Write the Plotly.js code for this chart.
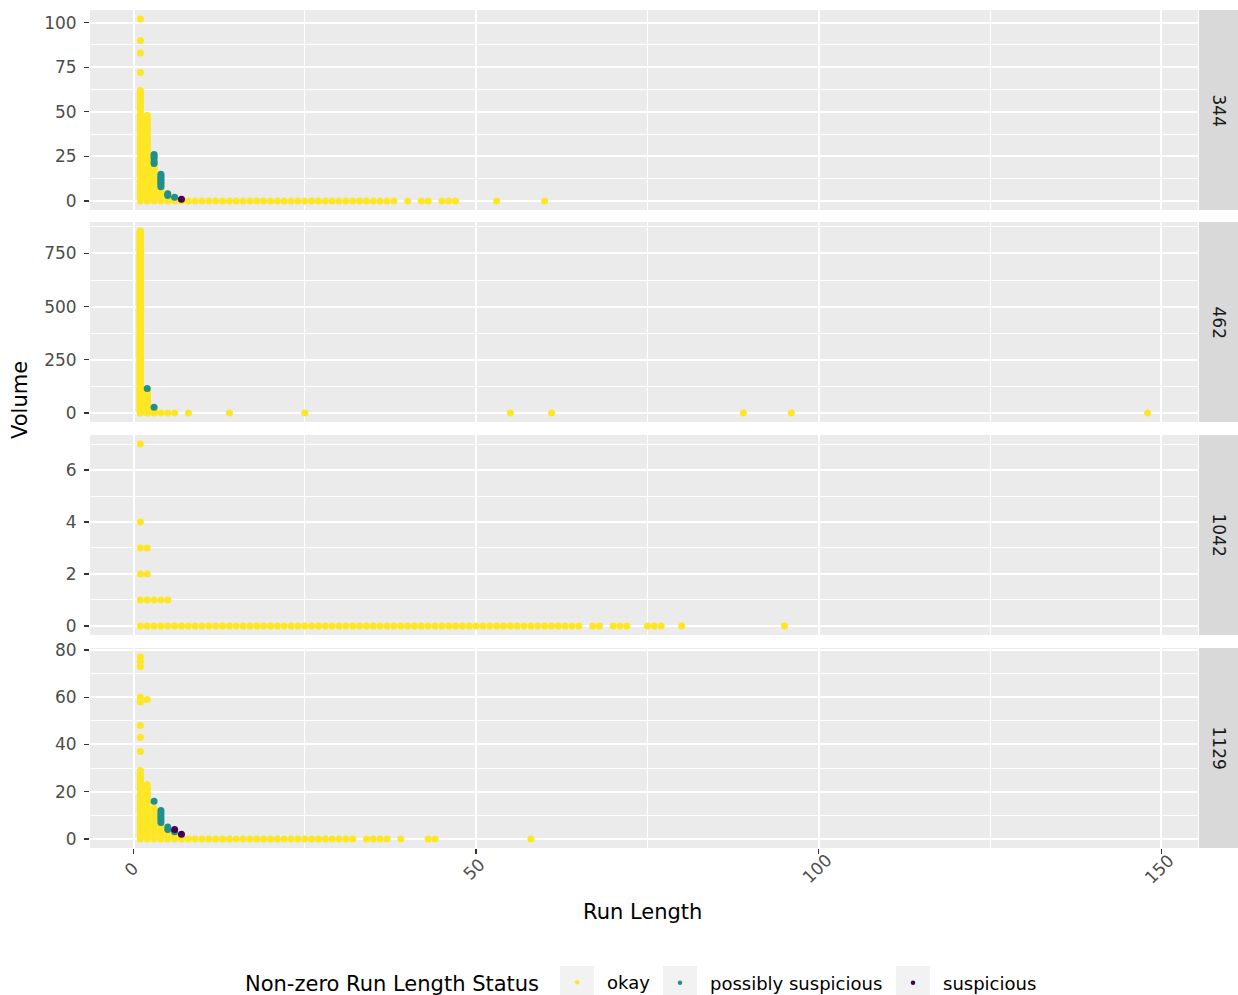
<!DOCTYPE html>
<html><head><meta charset="utf-8">
<script src="https://cdn.plot.ly/plotly-3.0.1.min.js"></script>
<style>html,body{margin:0;padding:0;background:#fff}</style>
</head><body><div id="chart" style="width:1238px;height:995px"></div>
<script>
// ---------- data ----------
const facetLabels = ['344', '462', '1042', '1129'];
const statusNames = ['okay', 'possibly suspicious', 'suspicious'];
const statusColors = ['#FDE725', '#21908C', '#440154'];
const xTickVals = [0, 50, 100, 150];
const xTickText = ['0', '50', '100', '150'];

// Panel 344: dense "okay" columns (every volume 0..top at that run length)
const p344ColRun = [1, 2, 3, 4, 5, 6, 7];
const p344ColTop = [62, 48, 22, 10, 4, 2, 1];
const p344OkayX = [1, 1, 1, 1, 8, 9, 10, 11, 12, 13, 14, 15, 16, 17, 18, 19, 20, 21, 22, 23, 24, 25, 26, 27, 28, 29, 30, 31, 32, 33, 34, 35, 36, 37, 38, 40, 42, 43, 45, 46, 47, 53, 60];
const p344OkayY = [72, 83, 90, 102, 0, 0, 0, 0, 0, 0, 0, 0, 0, 0, 0, 0, 0, 0, 0, 0, 0, 0, 0, 0, 0, 0, 0, 0, 0, 0, 0, 0, 0, 0, 0, 0, 0, 0, 0, 0, 0, 0, 0];
const p344PossX = [3, 3, 3, 3, 3, 4, 4, 4, 4, 4, 4, 4, 4, 5, 5, 6];
const p344PossY = [21, 22, 24, 25, 26, 8, 9, 10, 11, 12, 13, 14, 15, 3, 4, 2];
const p344SuspX = [7];
const p344SuspY = [1];

// Panel 462
const p462ColRun = [1, 2, 3];
const p462ColTop = [855, 110, 22];
const p462OkayX = [4, 5, 6, 8, 14, 25, 55, 61, 89, 96, 148];
const p462OkayY = [0, 0, 0, 0, 0, 0, 0, 0, 0, 0, 0];
const p462PossX = [2, 3];
const p462PossY = [115, 27];
const p462SuspX = [];
const p462SuspY = [];

// Panel 1042
const p1042ColRun = [1, 2, 3, 4, 5];
const p1042ColTop = [4, 3, 1, 1, 1];
const p1042OkayX = [1, 6, 7, 8, 9, 10, 11, 12, 13, 14, 15, 16, 17, 18, 19, 20, 21, 22, 23, 24, 25, 26, 27, 28, 29, 30, 31, 32, 33, 34, 35, 36, 37, 38, 39, 40, 41, 42, 43, 44, 45, 46, 47, 48, 49, 50, 51, 52, 53, 54, 55, 56, 57, 58, 59, 60, 61, 62, 63, 64, 65, 67, 68, 70, 71, 72, 75, 76, 77, 80, 95];
const p1042OkayY = [7, 0, 0, 0, 0, 0, 0, 0, 0, 0, 0, 0, 0, 0, 0, 0, 0, 0, 0, 0, 0, 0, 0, 0, 0, 0, 0, 0, 0, 0, 0, 0, 0, 0, 0, 0, 0, 0, 0, 0, 0, 0, 0, 0, 0, 0, 0, 0, 0, 0, 0, 0, 0, 0, 0, 0, 0, 0, 0, 0, 0, 0, 0, 0, 0, 0, 0, 0, 0, 0, 0];
const p1042PossX = [];
const p1042PossY = [];
const p1042SuspX = [];
const p1042SuspY = [];

// Panel 1129
const p1129ColRun = [1, 2, 3, 4, 5, 6, 7];
const p1129ColTop = [29, 23, 13, 6, 3, 2, 1];
const p1129OkayX = [1, 1, 1, 1, 1, 1, 1, 1, 2, 8, 9, 10, 11, 12, 13, 14, 15, 16, 17, 18, 19, 20, 21, 22, 23, 24, 25, 26, 27, 28, 29, 30, 31, 32, 34, 35, 36, 37, 39, 43, 44, 58];
const p1129OkayY = [37, 43, 48, 58, 60, 73, 75, 77, 59, 0, 0, 0, 0, 0, 0, 0, 0, 0, 0, 0, 0, 0, 0, 0, 0, 0, 0, 0, 0, 0, 0, 0, 0, 0, 0, 0, 0, 0, 0, 0, 0, 0];
const p1129PossX = [3, 4, 4, 4, 4, 4, 4, 5, 5, 6];
const p1129PossY = [16, 7, 8, 9, 10, 11, 12, 4, 5, 3];
const p1129SuspX = [6, 7];
const p1129SuspY = [4, 2];

// y-axis ticks per panel
const yTicks = [[0, 25, 50, 75, 100], [0, 250, 500, 750], [0, 2, 4, 6], [0, 20, 40, 60, 80]];

// ---------- build ----------
const panels = [
  {colRun: p344ColRun, colTop: p344ColTop, ox: p344OkayX, oy: p344OkayY, px: p344PossX, py: p344PossY, sx: p344SuspX, sy: p344SuspY},
  {colRun: p462ColRun, colTop: p462ColTop, ox: p462OkayX, oy: p462OkayY, px: p462PossX, py: p462PossY, sx: p462SuspX, sy: p462SuspY},
  {colRun: p1042ColRun, colTop: p1042ColTop, ox: p1042OkayX, oy: p1042OkayY, px: p1042PossX, py: p1042PossY, sx: p1042SuspX, sy: p1042SuspY},
  {colRun: p1129ColRun, colTop: p1129ColTop, ox: p1129OkayX, oy: p1129OkayY, px: p1129PossX, py: p1129PossY, sx: p1129SuspX, sy: p1129SuspY}
];

const W = 1238, H = 995;
const mL = 90, mR = 40, mT = 10, mB = 147;
const plotW = W - mL - mR, plotH = H - mT - mB;
const panelPx = [[10, 210], [222, 422], [435, 635], [648, 848]];
const dom = panelPx.map(p => [(H - mB - p[1]) / plotH, (H - mB - p[0]) / plotH]);
const px2x = px => (px - mL) / plotW;
const px2y = py => (H - mB - py) / plotH;

const MS = 7;
const traces = [];
const layout = {
  width: W, height: H,
  margin: {l: mL, r: mR, t: mT, b: mB, autoexpand: false},
  paper_bgcolor: '#FFFFFF', plot_bgcolor: '#EBEBEB',
  font: {family: 'DejaVu Sans, sans-serif', color: '#000000'},
  showlegend: true,
  shapes: [], annotations: []
};

panels.forEach((p, i) => {
  const n = i + 1;
  const xa = 'x' + (n === 1 ? '' : n), ya = 'y' + (n === 1 ? '' : n);
  const cx = [], cy = [];
  p.colRun.forEach((r, k) => { for (let v = 0; v <= p.colTop[k]; v++) { cx.push(r); cy.push(v); } });
  const okX = cx.concat(p.ox), okY = cy.concat(p.oy);
  const sets = [[okX, okY], [p.px, p.py], [p.sx, p.sy]];
  sets.forEach((s, j) => {
    traces.push({type: 'scatter', mode: 'markers', x: s[0], y: s[1], xaxis: xa, yaxis: ya,
      marker: {color: statusColors[j], size: MS, line: {width: 0}}, showlegend: false, hoverinfo: 'x+y'});
  });
  const ymax = Math.max(...okY, ...p.py, ...p.sy, 0), ymin = 0;
  const pad = (ymax - ymin) * 0.05;
  layout['xaxis' + (n === 1 ? '' : n)] = {
    domain: [0, 1], anchor: ya, range: [-6.35, 155.35],
    tickmode: 'array', tickvals: xTickVals, ticktext: xTickText,
    showticklabels: false, ticks: n === 4 ? 'outside' : '', ticklen: 5, tickcolor: '#333333', tickwidth: 1.3,
    showgrid: true, gridcolor: '#FFFFFF', gridwidth: 2, zeroline: false, showline: false,
    minor: {tickmode: 'array', tickvals: [25, 75, 125], showgrid: true, gridcolor: '#FFFFFF', gridwidth: 1, ticks: ''}
  };
  const yt = yTicks[i];
  const step = yt[1] - yt[0];
  const minorVals = yt.map(v => v + step / 2).filter(v => v < ymax + pad);
  layout['yaxis' + (n === 1 ? '' : n)] = {
    domain: dom[i], anchor: xa, range: [ymin - pad, ymax + pad],
    tickmode: 'array', tickvals: yt, ticktext: yt.map(String),
    ticks: 'outside', ticklen: 5, tickcolor: '#333333', tickwidth: 1.3, ticklabelstandoff: 4,
    tickfont: {size: 17, color: '#4D4D4D'},
    showgrid: true, gridcolor: '#FFFFFF', gridwidth: 2, zeroline: false, showline: false,
    minor: {tickmode: 'array', tickvals: minorVals, showgrid: true, gridcolor: '#FFFFFF', gridwidth: 1, ticks: ''}
  };
  layout.shapes.push({type: 'rect', xref: 'paper', yref: 'paper', x0: 1 + 1 / plotW, x1: 1 + 40 / plotW,
    y0: dom[i][0], y1: dom[i][1], fillcolor: '#D9D9D9', line: {width: 0}, layer: 'below'});
  layout.annotations.push({xref: 'paper', yref: 'paper', x: 1 + 20.5 / plotW, y: (dom[i][0] + dom[i][1]) / 2,
    text: facetLabels[i], textangle: 90, showarrow: false, xanchor: 'center', yanchor: 'middle',
    font: {size: 17, color: '#1A1A1A'}});
});

// x tick labels (rotated, centred under ticks)
xTickVals.forEach((v, k) => {
  layout.annotations.push({xref: 'x4', yref: 'paper', x: v, y: 0, yshift: -21, xshift: -2, text: xTickText[k],
    textangle: -45, showarrow: false, xanchor: 'center', yanchor: 'middle', font: {size: 17, color: '#4D4D4D'}});
});
// axis titles
layout.annotations.push({xref: 'paper', yref: 'paper', x: px2x(642), y: px2y(912),
  text: 'Run Length', showarrow: false, xanchor: 'center', yanchor: 'middle', font: {size: 21, color: '#000000'}});
layout.annotations.push({xref: 'paper', yref: 'paper', x: px2x(20), y: px2y(400),
  text: 'Volume', textangle: -90, showarrow: false, xanchor: 'center', yanchor: 'middle', font: {size: 21, color: '#000000'}});

// legend keys (grey key backgrounds) and one legend per status so each entry sits where the reference has it
const keyCentres = [577, 680, 913];
keyCentres.forEach(cxp => {
  layout.shapes.push({type: 'rect', xref: 'paper', yref: 'paper', x0: px2x(cxp - 17), x1: px2x(cxp + 17),
    y0: px2y(1000), y1: px2y(966), fillcolor: '#F2F2F2', line: {width: 0}, layer: 'below'});
});
const legendNames = ['legend', 'legend2', 'legend3'];
statusNames.forEach((nm, j) => {
  traces.push({type: 'scatter', mode: 'markers', x: [null], y: [null], name: nm, xaxis: 'x4', yaxis: 'y4',
    marker: {color: statusColors[j], size: 4.5}, showlegend: true, legend: legendNames[j]});
});
const legendBase = {orientation: 'h', yanchor: 'middle', y: px2y(983), xanchor: 'left',
  font: {size: 18, color: '#000000'}, bgcolor: 'rgba(0,0,0,0)', itemwidth: 50};
layout.legend = Object.assign({}, legendBase, {x: px2x(243),
  title: {text: 'Non-zero Run Length Status', font: {size: 21, color: '#000000'}, side: 'left'}});
layout.legend2 = Object.assign({}, legendBase, {x: px2x(keyCentres[1] - 30)});
layout.legend3 = Object.assign({}, legendBase, {x: px2x(keyCentres[2] - 30)});

Plotly.newPlot('chart', traces, layout, {displayModeBar: false, staticPlot: true});
</script></body></html>
